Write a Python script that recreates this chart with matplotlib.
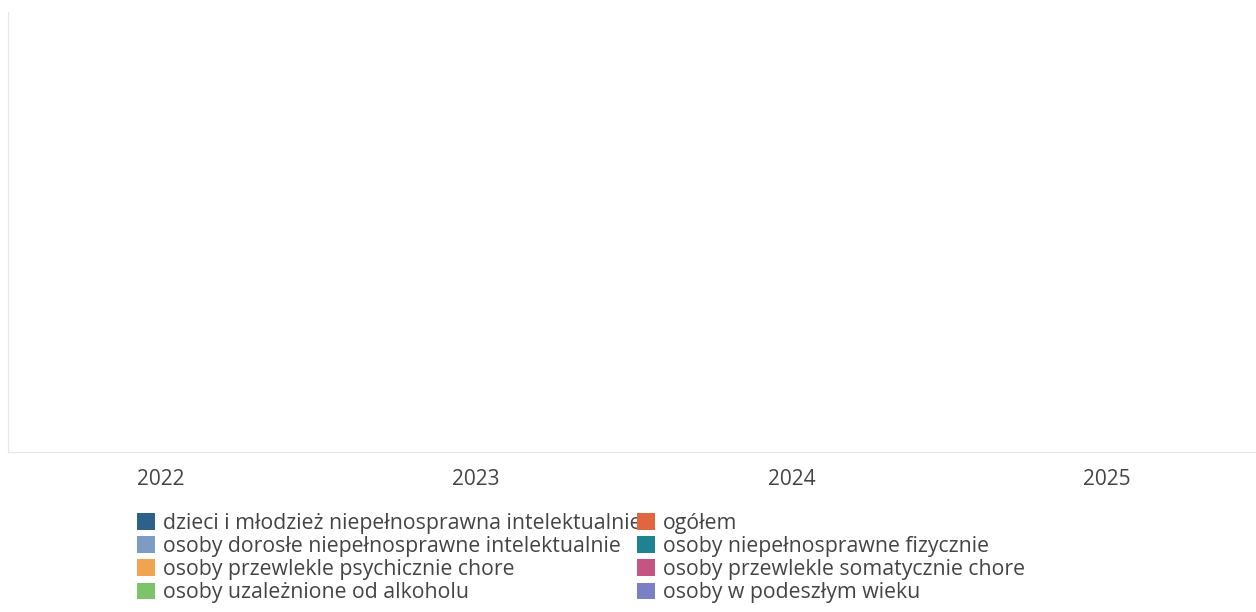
import numpy as np
import matplotlib.pyplot as plt
from matplotlib.patches import Patch

plt.rcParams["font.family"] = ["Open Sans", "DejaVu Sans"]

# Categories (years) and series - the chart has no values plotted
years = ["2022", "2023", "2024", "2025"]
series = [
    "dzieci i młodzież niepełnosprawna intelektualnie",
    "ogółem",
    "osoby dorosłe niepełnosprawne intelektualnie",
    "osoby niepełnosprawne fizycznie",
    "osoby przewlekle psychicznie chore",
    "osoby przewlekle somatycznie chore",
    "osoby uzależnione od alkoholu",
    "osoby w podeszłym wieku",
]
colors = ["#2e6189", "#e06640", "#7d9cc4", "#1f8290", "#f0a450", "#c45582", "#7cc46a", "#7b7fc4"]
values = [[np.nan] * len(years) for _ in series]

fig = plt.figure(figsize=(12.56, 6.12), dpi=100)
ax = fig.add_axes([8 / 1256, 1 - 452 / 612, 1 - 8 / 1256, 440 / 612])

x = np.arange(len(years))
w = 0.8 / len(series)
for i, (name, vals) in enumerate(zip(series, values)):
    ax.bar(x - 0.4 + w * (i + 0.5), vals, width=w, color=colors[i], label=name)

ax.set_xlim(-0.485, 3.473)
ax.set_ylim(0, 1)
ax.set_xticks(x)
ax.set_xticklabels(years, fontsize=15, color="#444444")
ax.tick_params(axis="x", length=0, pad=12)
ax.set_yticks([])
for s in ["top", "right"]:
    ax.spines[s].set_visible(False)
ax.spines["left"].set_color("#e6e6e6")
ax.spines["bottom"].set_color("#e6e6e6")

# plotly-style legend: row-major order, so reorder for column-major fill
order = [0, 2, 4, 6, 1, 3, 5, 7]
handles = [Patch(facecolor=colors[i], edgecolor="none") for i in order]
labels = [series[i] for i in order]
fig.legend(handles, labels, loc="upper left", bbox_to_anchor=(137 / 1256, 1 - 513 / 612),
           ncol=2, frameon=False, fontsize=15.3, handlelength=0.85, handleheight=0.85,
           handletextpad=0.37, labelspacing=0.1, columnspacing=-0.22,
           borderaxespad=0, borderpad=0, labelcolor="#444444")

fig.savefig("out.png", dpi=100)
